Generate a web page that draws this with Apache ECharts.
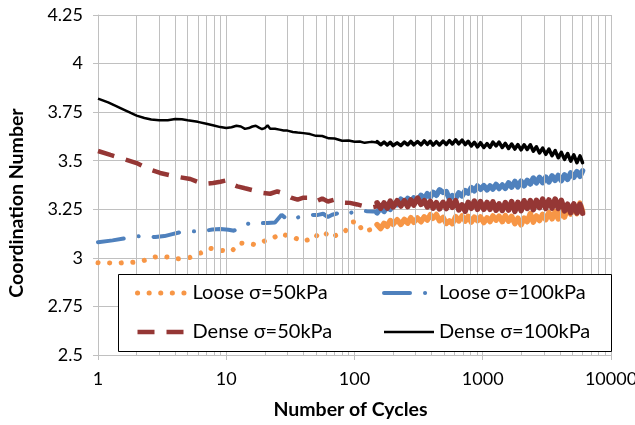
<!DOCTYPE html>
<html><head><meta charset="utf-8">
<script src="https://cdn.jsdelivr.net/npm/echarts@6/dist/echarts.min.js"></script>
<style>html,body{margin:0;padding:0;background:#fff}#c{width:635px;height:425px}</style>
</head><body><div id="c"></div>
<script>
// ---------- DATA ----------
const xTickLabels = ['1','10','100','1000','10000'];
const yTickLabels = ['2.5','2.75','3','3.25','3.5','3.75','4','4.25'];
const minorGridCycles = [2,3,4,5,6,7,8,9,20,30,40,50,60,70,80,90,200,300,400,500,600,700,800,900,2000,3000,4000,5000,6000,7000,8000,9000];

const seriesNames = ['Loose σ=50kPa','Loose σ=100kPa','Dense σ=50kPa','Dense σ=100kPa'];

const lateCycles = [150,160,170,180,190,200,215,230,245,260,275,290,310,330,350,370,390,410,435,460,490,520,550,580,615,650,690,730,770,815,860,910,960,1020,1080,1140,1200,1270,1340,1420,1500,1590,1680,1780,1880,1990,2100,2220,2350,2480,2620,2770,2930,3100,3280,3470,3670,3880,4100,4340,4590,4850,5130,5420,5730,6000];

const orangeEarlyCycles = [1,1.25,1.5,1.9,2.3,2.8,3.4,4.1,5.1,6.3,7.5,9.1,11,12.6,14.6,16.8,19.5,23,26.5,29,31.5,34.5,39,43.5,48,53,59,65,73,82,89,98,107,115,133,150];
const orangeEarlyValues = [2.975,2.974,2.974,2.977,2.987,3.005,3.005,2.995,3.0,3.025,3.049,3.038,3.033,3.076,3.075,3.068,3.085,3.10,3.125,3.117,3.115,3.102,3.085,3.093,3.093,3.131,3.128,3.102,3.119,3.128,3.154,3.185,3.188,3.136,3.145,3.16];
const orangeLateValues = [3.171,3.151,3.178,3.162,3.192,3.173,3.196,3.172,3.198,3.179,
3.207,3.183,3.205,3.186,3.211,3.195,3.222,3.204,3.223,3.191,
3.208,3.177,3.190,3.176,3.212,3.190,3.216,3.189,3.214,3.184,
3.210,3.191,3.211,3.182,3.206,3.187,3.216,3.194,3.215,3.186,
3.218,3.189,3.214,3.176,3.204,3.170,3.205,3.186,3.228,3.184,
3.216,3.192,3.224,3.197,3.233,3.201,3.238,3.200,3.245,3.210,
3.257,3.225,3.270,3.228,3.282,3.240];

const blueEarlyCycles = [1,1.3,1.6,2.2,2.8,3.3,3.8,4.5,5.2,6,7,7.8,9,10.4,11.5,12.4,14,16,18,21,24,27,30,33,37,41,45,51,57,62,67,75,82,92,105,125,140,150];
const blueEarlyValues = [3.08,3.09,3.10,3.114,3.107,3.112,3.122,3.134,3.137,3.136,3.14,3.146,3.148,3.145,3.14,3.154,3.17,3.183,3.178,3.18,3.182,3.222,3.196,3.20,3.21,3.215,3.222,3.22,3.227,3.21,3.222,3.23,3.239,3.23,3.245,3.24,3.238,3.24];
const blueLateValues = [3.232,3.257,3.239,3.262,3.250,3.280,3.273,3.302,3.284,3.306,
3.288,3.309,3.296,3.322,3.304,3.330,3.313,3.337,3.322,3.350,
3.337,3.341,3.303,3.320,3.308,3.334,3.319,3.346,3.333,3.361,
3.345,3.370,3.353,3.371,3.350,3.370,3.354,3.378,3.357,3.375,
3.358,3.386,3.364,3.393,3.366,3.395,3.371,3.399,3.380,3.411,
3.386,3.414,3.387,3.415,3.391,3.422,3.399,3.424,3.397,3.427,
3.404,3.437,3.415,3.444,3.420,3.448];

const redEarlyCycles = [1,1.25,1.5,2,2.55,3.05,4,5.25,6.6,7.9,9,10.2,11.3,12.2,14,16.3,19.5,22,25,27,29,32,36,40,43,47,50,56,62,70,80,92,105,120,133,150];
const redEarlyValues = [3.55,3.53,3.514,3.488,3.454,3.437,3.419,3.406,3.38,3.385,3.392,3.40,3.377,3.368,3.358,3.347,3.334,3.33,3.342,3.335,3.325,3.31,3.30,3.31,3.31,3.295,3.29,3.305,3.29,3.30,3.285,3.283,3.275,3.265,3.258,3.265];
const redLateValues = [3.283,3.256,3.283,3.256,3.292,3.262,3.294,3.267,3.294,3.264,
3.298,3.272,3.308,3.275,3.294,3.262,3.291,3.256,3.284,3.252,
3.286,3.254,3.295,3.260,3.294,3.247,3.273,3.240,3.286,3.255,
3.292,3.250,3.290,3.250,3.285,3.250,3.288,3.245,3.278,3.244,
3.285,3.246,3.290,3.239,3.286,3.243,3.294,3.254,3.295,3.248,
3.296,3.258,3.302,3.255,3.298,3.256,3.303,3.255,3.296,3.242,
3.276,3.232,3.278,3.231,3.276,3.230];

const blackEarlyCycles = [1,1.2,1.4,1.6,1.8,2,2.3,2.6,3,3.5,4,4.5,5,6,7,8,9,10,11,12,13,14,15,16,17,18,19,20,21,22,24,26,28,30,33,36,40,45,50,56,63,70,80,90,100,110,120,135,150];
const blackEarlyValues = [3.82,3.80,3.78,3.762,3.746,3.732,3.72,3.712,3.708,3.708,3.715,3.713,3.708,3.70,3.69,3.681,3.673,3.668,3.672,3.680,3.676,3.664,3.668,3.676,3.680,3.670,3.663,3.668,3.682,3.665,3.664,3.660,3.656,3.655,3.648,3.645,3.642,3.637,3.628,3.627,3.615,3.614,3.603,3.604,3.598,3.599,3.592,3.597,3.594];
const blackLateValues = [3.598,3.582,3.596,3.581,3.595,3.578,3.592,3.578,3.596,3.582,
3.599,3.582,3.599,3.582,3.602,3.584,3.600,3.580,3.598,3.581,
3.601,3.584,3.604,3.586,3.607,3.587,3.606,3.583,3.600,3.576,
3.595,3.571,3.593,3.568,3.588,3.569,3.596,3.576,3.596,3.568,
3.589,3.563,3.586,3.560,3.583,3.556,3.582,3.558,3.582,3.549,
3.572,3.540,3.565,3.533,3.560,3.526,3.552,3.515,3.543,3.507,
3.537,3.498,3.530,3.490,3.525,3.490];

// ---------- CHART ----------
const zip = (xs, ys) => xs.map((x, i) => [x, ys[i]]);
const FONT = 'Lato, "Noto Sans", "DejaVu Sans", sans-serif';
const GRID = '#C0C0C0';
const ORANGE = '#F79646', BLUE = '#4F81BD', RED = '#953735', BLACK = '#000000';

const sty = {
  loose50: {color: ORANGE, width: 5, type: [0.1, 11.5], cap: 'round'},
  loose100: {color: BLUE, width: 4, type: [26, 15, 0.1, 15], cap: 'round'},
  dense50: {color: RED, width: 4.5, type: [17, 12], cap: 'butt'},
  dense100: {color: BLACK, width: 2.5, type: 'solid'}
};
const band = c => ({color: c, width: 5.5, type: 'solid', join: 'round', cap: 'round'});

function lineSeries(name, data, lineStyle, z) {
  return {type: 'line', name, data, z, symbol: 'none', showSymbol: false, smooth: false,
    lineStyle, itemStyle: {color: lineStyle.color}, emphasis: {disabled: true}, silent: true};
}

const legendBase = {
  orient: 'vertical', top: 278, z: 60,
  itemWidth: 50, itemHeight: 20, itemGap: 19, selectedMode: false,
  textStyle: {fontFamily: FONT, fontSize: 20, color: '#000'},
  itemStyle: {opacity: 0}
};

const chart = echarts.init(document.getElementById('c'), null, {renderer: 'canvas'});
const option = {
  animation: false,
  backgroundColor: '#ffffff',
  grid: {left: 98, right: 24, top: 15, bottom: 70, outerBoundsMode: 'none'},
  xAxis: {
    type: 'log', logBase: 10, min: 1, max: 10000,
    name: 'Number of Cycles', nameLocation: 'middle', nameGap: 45,
    nameTextStyle: {fontFamily: FONT, fontSize: 19.5, fontWeight: 'bold', color: '#000', padding: [0, 8, 0, 0]},
    axisLine: {show: true, lineStyle: {color: GRID, width: 1}},
    axisTick: {show: true, inside: false, length: 5, lineStyle: {color: GRID}},
    axisLabel: {margin: 15, fontFamily: FONT, fontSize: 18, color: '#000',
      formatter: v => xTickLabels[Math.round(Math.log10(v))]},
    splitLine: {show: true, lineStyle: {color: GRID, width: 1}},
    minorTick: {show: false}, minorSplitLine: {show: false}
  },
  yAxis: {
    type: 'value', min: 2.5, max: 4.25, interval: 0.25,
    name: 'Coordination Number', nameLocation: 'middle', nameGap: 71, nameRotate: 90,
    nameTextStyle: {fontFamily: FONT, fontSize: 19.5, fontWeight: 'bold', color: '#000', padding: [0, 36, 0, 0]},
    axisLine: {show: true, lineStyle: {color: GRID, width: 1}},
    axisTick: {show: true, inside: false, length: 5, lineStyle: {color: GRID}},
    axisLabel: {margin: 15, fontFamily: FONT, fontSize: 18, color: '#000',
      formatter: v => yTickLabels[Math.round((v - 2.5) / 0.25)]},
    splitLine: {show: true, lineStyle: {color: GRID, width: 1}}
  },
  graphic: [{
    type: 'rect', left: 118, top: 274, z: 50, silent: true,
    shape: {width: 493, height: 77},
    style: {fill: '#ffffff', stroke: '#000000', lineWidth: 1}
  }],
  legend: [
    Object.assign({}, legendBase, {left: 130, data: [
      {name: seriesNames[0], lineStyle: sty.loose50},
      {name: seriesNames[2], lineStyle: sty.dense50}
    ]}),
    Object.assign({}, legendBase, {left: 377, data: [
      {name: seriesNames[1], lineStyle: sty.loose100},
      {name: seriesNames[3], lineStyle: sty.dense100}
    ]})
  ],
  series: [
    {type: 'line', name: 'grid', data: [], z: 1, silent: true,
     markLine: {silent: true, symbol: ['none', 'none'], label: {show: false}, animation: false,
       lineStyle: {color: GRID, width: 1, type: 'solid'},
       emphasis: {disabled: true},
       data: minorGridCycles.map(v => ({xAxis: v}))}},
    lineSeries(seriesNames[0], zip(orangeEarlyCycles, orangeEarlyValues), sty.loose50, 3),
    lineSeries(seriesNames[0], zip(lateCycles, orangeLateValues), band(ORANGE), 3),
    lineSeries(seriesNames[1], zip(blueEarlyCycles, blueEarlyValues), sty.loose100, 4),
    lineSeries(seriesNames[1], zip(lateCycles, blueLateValues), band(BLUE), 4),
    lineSeries(seriesNames[2], zip(redEarlyCycles, redEarlyValues), sty.dense50, 5),
    lineSeries(seriesNames[2], zip(lateCycles, redLateValues), band(RED), 5),
    lineSeries(seriesNames[3], zip(blackEarlyCycles, blackEarlyValues), sty.dense100, 6),
    lineSeries(seriesNames[3], zip(lateCycles, blackLateValues), {color: BLACK, width: 3.5, type: 'solid', join: 'round', cap: 'round'}, 6)
  ]
};
chart.setOption(option);
</script></body></html>
